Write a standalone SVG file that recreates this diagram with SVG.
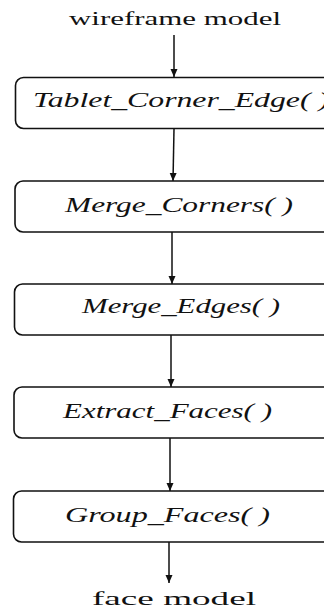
<svg xmlns="http://www.w3.org/2000/svg" width="324" height="616" viewBox="0 0 324 616">
  <style>
    .box { fill: #ffffff; stroke: #111111; stroke-width: 1.6; }
    .lbl { font-family: "Liberation Serif", "Times New Roman", serif; font-style: italic; font-size: 20px; fill: #111111; }
    .io { font-family: "Liberation Serif", "Times New Roman", serif; font-size: 19px; fill: #111111; }
    .wire { stroke: #111111; stroke-width: 1.5; fill: none; marker-end: url(#head); }
  </style>
  <defs>
    <marker id="head" viewBox="0 0 8 10" refX="8" refY="5" markerWidth="8" markerHeight="10" markerUnits="userSpaceOnUse" orient="auto">
      <path d="M0,1.5 L8,5 L0,8.5 Z" fill="#111111"/>
    </marker>
  </defs>
  <rect width="324" height="616" fill="#ffffff"/>

  <text id="input" class="io" x="175" y="25" text-anchor="middle" textLength="212" lengthAdjust="spacingAndGlyphs">wireframe model</text>

  <g id="connectors">
    <line class="wire" x1="174" y1="35" x2="174" y2="77"/>
    <line class="wire" x1="174" y1="129" x2="173" y2="181"/>
    <line class="wire" x1="172" y1="232" x2="172" y2="284"/>
    <line class="wire" x1="171" y1="335" x2="171" y2="387"/>
    <line class="wire" x1="170" y1="438" x2="170" y2="491"/>
    <line class="wire" x1="169" y1="542" x2="169" y2="583"/>
  </g>

  <g id="tablet_corner_edge">
    <rect class="box" x="15.5" y="77.5" width="330" height="51" rx="8"/>
    <text class="lbl" x="33" y="107" textLength="296" lengthAdjust="spacingAndGlyphs">Tablet_Corner_Edge( )</text>
  </g>
  <g id="merge_corners">
    <rect class="box" x="15" y="181" width="330" height="51" rx="8"/>
    <text class="lbl" x="65" y="212" textLength="228" lengthAdjust="spacingAndGlyphs">Merge_Corners( )</text>
  </g>
  <g id="merge_edges">
    <rect class="box" x="14.5" y="284" width="330" height="51" rx="8"/>
    <text class="lbl" x="82" y="313" textLength="198" lengthAdjust="spacingAndGlyphs">Merge_Edges( )</text>
  </g>
  <g id="extract_faces">
    <rect class="box" x="14" y="387" width="330" height="51" rx="8"/>
    <text class="lbl" x="63" y="418" textLength="209" lengthAdjust="spacingAndGlyphs">Extract_Faces( )</text>
  </g>
  <g id="group_faces">
    <rect class="box" x="13.5" y="491" width="330" height="51" rx="8"/>
    <text class="lbl" x="65" y="522" textLength="205" lengthAdjust="spacingAndGlyphs">Group_Faces( )</text>
  </g>

  <text id="output" class="io" x="174" y="605" text-anchor="middle" textLength="164" lengthAdjust="spacingAndGlyphs">face model</text>
</svg>
